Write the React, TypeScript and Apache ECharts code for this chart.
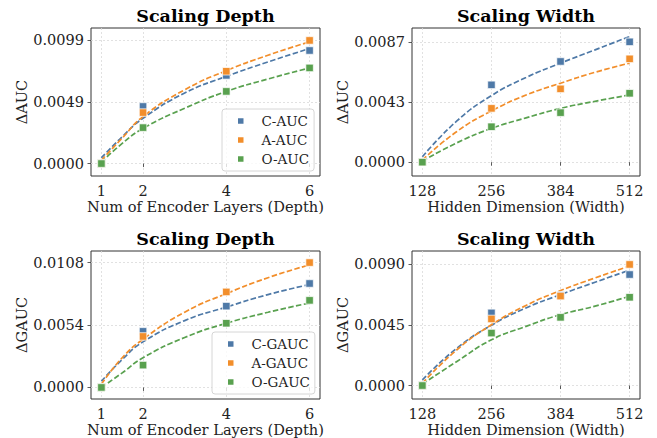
import React, { useEffect, useRef } from "react";
import * as echarts from "echarts";

const FONT = "DejaVu Serif";
const COLOR_C = "#4e79a7";
const COLOR_A = "#f28e2b";
const COLOR_G = "#59a14f";

// x values
const depthX = [1, 2, 4, 6];
const widthX = [128, 256, 384, 512];
const depthFitX = [1, 1.5, 2, 3, 4, 5, 6];
const widthFitX = [128, 192, 256, 320, 384, 448, 512];

// Scaling depth, AUC
const depthAucC = [0, 0.00459, 0.00709, 0.00909];
const depthAucA = [0, 0.0041, 0.00742, 0.0099];
const depthAucO = [0, 0.00289, 0.0058, 0.00769];
const depthAucFitC = [0.00046, 0.00216, 0.00364, 0.00567, 0.00701, 0.00817, 0.00925];
const depthAucFitA = [0.00027, 0.00205, 0.00378, 0.00593, 0.00747, 0.00871, 0.00979];
const depthAucFitO = [0.0001, 0.00162, 0.00283, 0.00445, 0.0058, 0.0068, 0.00769];

// Scaling width, AUC
const widthAucC = [0, 0.00559, 0.00728, 0.0087];
const widthAucA = [0, 0.00389, 0.0053, 0.00747];
const widthAucO = [0, 0.00256, 0.00358, 0.00498];
const widthAucFitC = [0.00039, 0.00298, 0.00481, 0.00612, 0.00716, 0.00812, 0.00909];
const widthAucFitA = [0.00015, 0.00222, 0.0037, 0.00485, 0.00571, 0.0065, 0.00716];
const widthAucFitO = [0.00007, 0.0014, 0.00244, 0.0032, 0.00389, 0.0044, 0.00486];

// Scaling depth, GAUC
const depthGaucC = [0, 0.00485, 0.00703, 0.00899];
const depthGaucA = [0, 0.00441, 0.00826, 0.0108];
const depthGaucO = [0, 0.00193, 0.00555, 0.00753];
const depthGaucFitC = [0.00053, 0.00242, 0.00394, 0.00578, 0.00695, 0.00803, 0.0089];
const depthGaucFitA = [0.00029, 0.00257, 0.00417, 0.00651, 0.00811, 0.00949, 0.0106];
const depthGaucFitO = [0.0, 0.00126, 0.00257, 0.00432, 0.00555, 0.0065, 0.0073];

// Scaling width, GAUC
const widthGaucC = [0, 0.0054, 0.0067, 0.00825];
const widthGaucA = [0, 0.00495, 0.00665, 0.009];
const widthGaucO = [0, 0.0039, 0.00507, 0.00656];
const widthGaucFitC = [0.00042, 0.00278, 0.00448, 0.00577, 0.00676, 0.00768, 0.00858];
const widthGaucFitA = [0.00017, 0.00266, 0.00452, 0.00595, 0.00706, 0.008, 0.00888];
const widthGaucFitO = [0.0001, 0.00179, 0.0034, 0.0044, 0.00527, 0.0059, 0.00664];

// tick values and labels
const depthTicks = [1, 2, 4, 6];
const widthTicks = [128, 256, 384, 512];
const yTicksDepthAuc = [0, 0.00495, 0.0099];
const yLabelsDepthAuc = ["0.0000", "0.0049", "0.0099"];
const yTicksWidthAuc = [0, 0.00435, 0.0087];
const yLabelsWidthAuc = ["0.0000", "0.0043", "0.0087"];
const yTicksDepthGauc = [0, 0.0054, 0.0108];
const yLabelsDepthGauc = ["0.0000", "0.0054", "0.0108"];
const yTicksWidthGauc = [0, 0.0045, 0.009];
const yLabelsWidthGauc = ["0.0000", "0.0045", "0.0090"];

const aucNames = ["C-AUC", "A-AUC", "O-AUC"];
const gaucNames = ["C-GAUC", "A-GAUC", "O-GAUC"];

const panels = [
  {
    title: "Scaling Depth", xName: "Num of Encoder Layers (Depth)", yName: "ΔAUC", yGap: 56,
    grid: { left: 91, top: 28, width: 229, height: 148 },
    xMin: 0.75, xMax: 6.25, xTicks: depthTicks, yTicks: yTicksDepthAuc, yLabels: yLabelsDepthAuc,
    px: depthX, fx: depthFitX, names: aucNames,
    pts: [depthAucC, depthAucA, depthAucO], fits: [depthAucFitC, depthAucFitA, depthAucFitO],
    legend: { left: 222, top: 109 },
  },
  {
    title: "Scaling Width", xName: "Hidden Dimension (Width)", yName: "ΔAUC", yGap: 58,
    grid: { left: 412, top: 28, width: 228, height: 148 },
    xMin: 108.8, xMax: 531.2, xTicks: widthTicks, yTicks: yTicksWidthAuc, yLabels: yLabelsWidthAuc,
    px: widthX, fx: widthFitX, names: aucNames,
    pts: [widthAucC, widthAucA, widthAucO], fits: [widthAucFitC, widthAucFitA, widthAucFitO],
    legend: null,
  },
  {
    title: "Scaling Depth", xName: "Num of Encoder Layers (Depth)", yName: "ΔGAUC", yGap: 56,
    grid: { left: 91, top: 251, width: 229, height: 148 },
    xMin: 0.75, xMax: 6.25, xTicks: depthTicks, yTicks: yTicksDepthGauc, yLabels: yLabelsDepthGauc,
    px: depthX, fx: depthFitX, names: gaucNames,
    pts: [depthGaucC, depthGaucA, depthGaucO], fits: [depthGaucFitC, depthGaucFitA, depthGaucFitO],
    legend: { left: 212, top: 332 },
  },
  {
    title: "Scaling Width", xName: "Hidden Dimension (Width)", yName: "ΔGAUC", yGap: 58,
    grid: { left: 412, top: 251, width: 228, height: 148 },
    xMin: 108.8, xMax: 531.2, xTicks: widthTicks, yTicks: yTicksWidthGauc, yLabels: yLabelsWidthGauc,
    px: widthX, fx: widthFitX, names: gaucNames,
    pts: [widthGaucC, widthGaucA, widthGaucO], fits: [widthGaucFitC, widthGaucFitA, widthGaucFitO],
    legend: null,
  },
];

const colors = [COLOR_C, COLOR_A, COLOR_G];

function buildOption() {
  const grid: any[] = [];
  const xAxis: any[] = [];
  const yAxis: any[] = [];
  const series: any[] = [];
  const title: any[] = [];
  const legend: any[] = [];
  const splitLine = { show: true, lineStyle: { color: "#d9d9d9", width: 0.8, type: [2, 2] } };
  const tick = { show: true, length: 3.5, inside: false, lineStyle: { color: "#333", width: 0.8 } };

  panels.forEach((p, i) => {
    grid.push({ ...p.grid, show: true, borderColor: "#333", borderWidth: 1, backgroundColor: "transparent", containLabel: false });
    title.push({
      text: p.title,
      left: p.grid.left + p.grid.width / 2,
      top: p.grid.top - 21,
      textAlign: "center",
      padding: 0,
      textStyle: { fontFamily: FONT, fontWeight: "bold", fontSize: 17.5, color: "#000" },
    });
    xAxis.push({
      type: "value", gridIndex: i, min: p.xMin, max: p.xMax,
      name: p.xName, nameLocation: "middle", nameGap: 23,
      nameTextStyle: { fontFamily: FONT, fontSize: 14.6, color: "#222" },
      axisLine: { show: false },
      axisTick: { ...tick, customValues: p.xTicks },
      axisLabel: { customValues: p.xTicks, margin: 7, fontFamily: FONT, fontSize: 14.5, color: "#222", formatter: (v: number) => String(v) },
      splitLine,
    });
    const yt = p.yTicks, yl = p.yLabels;
    const M = yt[yt.length - 1];
    yAxis.push({
      type: "value", gridIndex: i, min: -0.001, max: M + 0.001,
      name: p.yName, nameLocation: "middle", nameGap: p.yGap,
      nameTextStyle: { fontFamily: FONT, fontSize: 14.6, color: "#222" },
      axisLine: { show: false },
      axisTick: { ...tick, customValues: yt },
      axisLabel: {
        customValues: yt, margin: 7, fontFamily: FONT, fontSize: 14.5, color: "#222",
        formatter: (v: number) => {
          let best = 0;
          yt.forEach((t, k) => { if (Math.abs(t - v) < Math.abs(yt[best] - v)) best = k; });
          return yl[best];
        },
      },
      splitLine,
    });
    p.fits.forEach((f, k) => {
      series.push({
        type: "line", name: p.names[k] + " fit", xAxisIndex: i, yAxisIndex: i,
        data: p.fx.map((x, j) => [x, f[j]]),
        smooth: 0.5, showSymbol: false, symbol: "none", silent: true, z: 2,
        lineStyle: { color: colors[k], width: 1.7, type: [5.5, 2.4] },
      });
    });
    p.pts.forEach((d, k) => {
      series.push({
        type: "scatter", name: p.names[k], xAxisIndex: i, yAxisIndex: i,
        data: p.px.map((x, j) => [x, d[j]]),
        symbol: "rect", symbolSize: 7.5, z: 3,
        itemStyle: { color: colors[k], borderColor: "#fff", borderWidth: 0.7, opacity: 1 },
      });
    });
    if (p.legend) {
      legend.push({
        orient: "vertical", left: p.legend.left, top: p.legend.top,
        data: p.names.map((n) => ({ name: n, icon: "rect" })),
        itemWidth: 7.5, itemHeight: 7.5, itemGap: 5,
        padding: [5, 5, 5, 14],
        backgroundColor: "rgba(255,255,255,0.8)",
        borderColor: "#cccccc", borderWidth: 0.8, borderRadius: 3,
        selectedMode: false,
        textStyle: { fontFamily: FONT, fontSize: 13.5, color: "#222", padding: [0, 0, 0, 12] },
      });
    }
  });

  return { animation: false, backgroundColor: "#fff", grid, xAxis, yAxis, series, title, legend };
}

export default function App() {
  const ref = useRef<HTMLDivElement>(null);
  useEffect(() => {
    if (!ref.current) return;
    const chart = echarts.init(ref.current, undefined, { renderer: "svg" });
    chart.setOption(buildOption() as any);
    return () => chart.dispose();
  }, []);
  return <div ref={ref} style={{ position: "fixed", left: 0, top: 0, width: 657, height: 438 }} />;
}
